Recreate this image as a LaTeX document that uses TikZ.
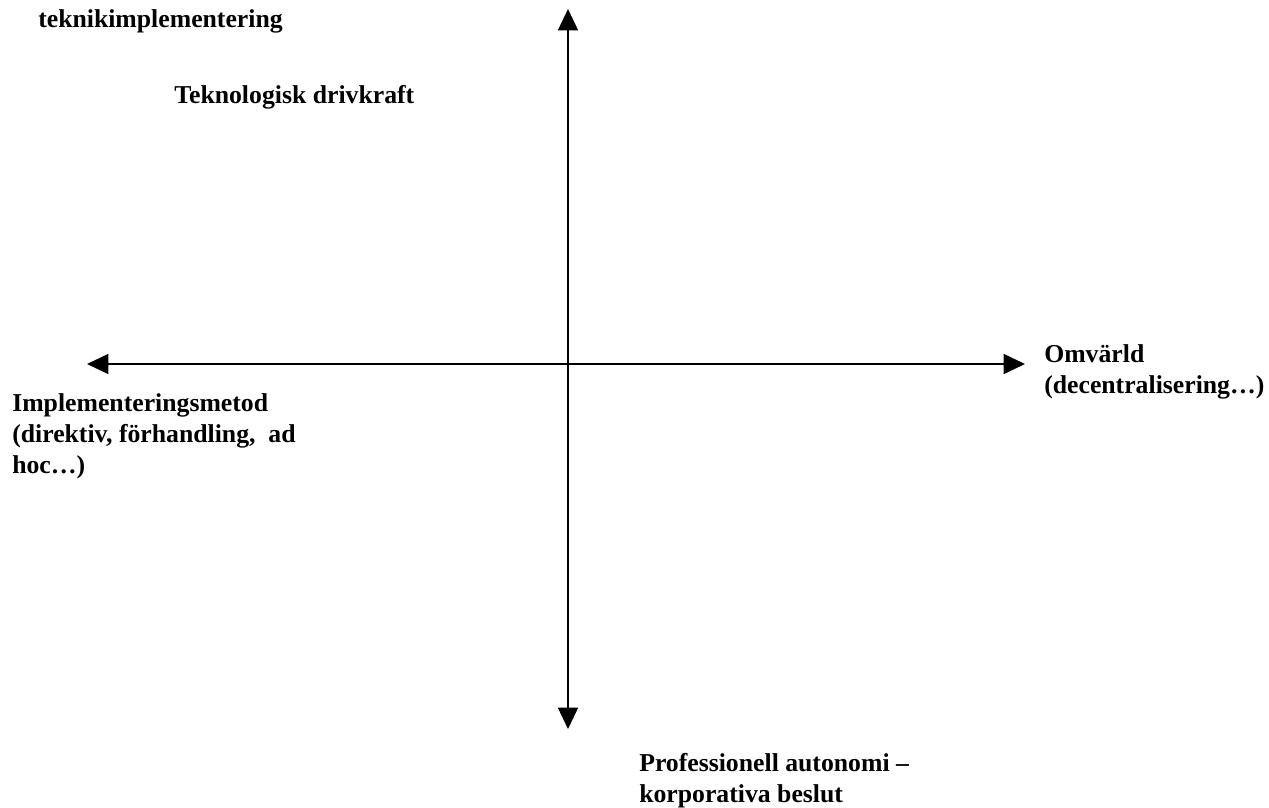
\documentclass[tikz,border=0pt]{standalone}
\usepackage{fontspec}
\setmainfont{Liberation Serif}
\usetikzlibrary{arrows.meta}
\begin{document}
\begin{tikzpicture}[x=0.75pt,y=-0.75pt,
  axis/.style={line width=1.2pt,{Triangle[length=16pt,width=15pt]}-{Triangle[length=16pt,width=15pt]}},
  lbl/.style={anchor=base west,inner sep=0pt,align=left,font=\fontsize{19.3pt}{22.9pt}\selectfont\bfseries}]
\useasboundingbox (0,0) rectangle (1269,807);
\coordinate (top) at (568,9);
\coordinate (bottom) at (568,729);
\coordinate (left) at (87,364);
\coordinate (right) at (1025,364);
\draw[axis] (top) -- (bottom);
\draw[axis] (left) -- (right);
\node[lbl] (tl) at (38,27) {teknikimplementering};
\node[lbl] (tek) at (174,103) {Teknologisk drivkraft};
\node[lbl] (omv) at (1044,393) {Omvärld\\(decentralisering…)};
\node[lbl] (impl) at (12,473) {Implementeringsmetod\\(direktiv, förhandling,\ \ ad\\hoc…)};
\node[lbl] (prof) at (639,802) {Professionell autonomi –\\korporativa beslut};
\end{tikzpicture}
\end{document}
